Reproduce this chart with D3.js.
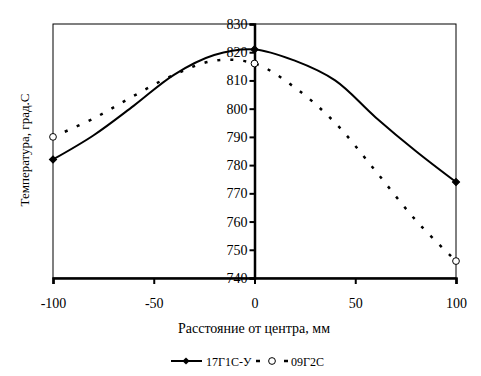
<!DOCTYPE html>
<html>
<head>
<meta charset="utf-8">
<script src="https://cdn.jsdelivr.net/npm/d3@7"></script>
<style>
  body { margin: 0; background: #fff; }
  text { font-family: "Liberation Serif", "Times New Roman", serif; fill: #000; }
</style>
</head>
<body>
<div id="chart"></div>
<script>
// данные
const xs = [-100, -80, -60, -40, -20, 0, 20, 40, 60, 80, 100];
const s1 = [782, 790.5, 801, 812, 819, 821, 817, 810, 797, 785, 774];   // 17Г1С-У
const s2 = [790, 796.5, 804.5, 812, 817, 816, 807.5, 795, 778, 760.5, 746]; // 09Г2С
const markerX = [-100, 0, 100];
const xTicks = [-100, -50, 0, 50, 100];
const yTicks = [740, 750, 760, 770, 780, 790, 800, 810, 820, 830];
const names = ["17Г1С-У", "09Г2С"];

const width = 481, height = 376;
const mLeft = 53, mRight = 456, mTop = 24, mBottom = 278;

const svg = d3.select("#chart").append("svg")
  .attr("width", width)
  .attr("height", height);

svg.append("rect").attr("width", width).attr("height", height).attr("fill", "#fff");

const x = d3.scaleLinear().domain([-100, 100]).range([mLeft, mRight]);
const y = d3.scaleLinear().domain([740, 830]).range([mBottom, mTop]);

// рамка
svg.append("rect")
  .attr("x", mLeft).attr("y", mTop)
  .attr("width", mRight - mLeft).attr("height", mBottom - mTop)
  .attr("fill", "none").attr("stroke", "#000").attr("stroke-width", 1);

// ось X
const xAxis = svg.append("g")
  .attr("transform", "translate(0," + mBottom + ")")
  .call(d3.axisBottom(x).tickValues(xTicks).tickSize(6).tickPadding(14).tickFormat(d => String(d)));
xAxis.select(".domain").attr("stroke-width", 2.5);
xAxis.selectAll(".tick line").attr("stroke-width", 2);
xAxis.selectAll("text").attr("font-size", 14);

// ось Y (через 0)
const yAxis = svg.append("g")
  .attr("transform", "translate(" + x(0) + ",0)")
  .call(d3.axisLeft(y).tickValues(yTicks).tickSize(5).tickPadding(2).tickFormat(d => String(d)));
yAxis.select(".domain").attr("stroke-width", 2.5);
yAxis.selectAll(".tick line").attr("stroke-width", 2);
yAxis.selectAll("text").attr("font-size", 14);

const line = d3.line()
  .x((d, i) => x(xs[i]))
  .y(d => y(d))
  .curve(d3.curveCatmullRom.alpha(0.5));

svg.append("path").datum(s1)
  .attr("d", line)
  .attr("fill", "none").attr("stroke", "#000").attr("stroke-width", 2);

svg.append("path").datum(s2)
  .attr("d", line)
  .attr("fill", "none").attr("stroke", "#000").attr("stroke-width", 2.5)
  .attr("stroke-dasharray", "3,10");

const diamond = d3.symbol().type(d3.symbolSquare).size(26);
const circle = d3.symbol().type(d3.symbolCircle).size(36);

svg.selectAll(".m1")
  .data(markerX)
  .enter().append("path")
  .attr("class", "m1")
  .attr("d", diamond)
  .attr("transform", d => "translate(" + x(d) + "," + y(s1[xs.indexOf(d)]) + ") rotate(45)")
  .attr("fill", "#000").attr("stroke", "#000");

svg.selectAll(".m2")
  .data(markerX)
  .enter().append("path")
  .attr("class", "m2")
  .attr("d", circle)
  .attr("transform", d => "translate(" + x(d) + "," + y(s2[xs.indexOf(d)]) + ")")
  .attr("fill", "#fff").attr("stroke", "#000").attr("stroke-width", 1);

// подписи осей
svg.append("text")
  .attr("x", 254).attr("y", 333)
  .attr("text-anchor", "middle").attr("font-size", 14)
  .text("Расстояние от центра, мм");

svg.append("text")
  .attr("transform", "translate(29,150) rotate(-90)")
  .attr("text-anchor", "middle").attr("font-size", 13)
  .text("Температура, град.С");

// легенда
const ly = 361;
const lg = svg.append("g");
lg.append("line").attr("x1", 171).attr("x2", 202).attr("y1", ly).attr("y2", ly)
  .attr("stroke", "#000").attr("stroke-width", 2);
lg.append("path").attr("d", diamond).attr("transform", "translate(186," + ly + ") rotate(45)");
lg.append("text").attr("x", 206).attr("y", ly + 5).attr("font-size", 12).text(names[0]);

lg.append("line").attr("x1", 256).attr("x2", 288).attr("y1", ly).attr("y2", ly)
  .attr("stroke", "#000").attr("stroke-width", 2.5).attr("stroke-dasharray", "4,24");
lg.append("path").attr("d", circle).attr("transform", "translate(272," + ly + ")")
  .attr("fill", "#fff").attr("stroke", "#000");
lg.append("text").attr("x", 291).attr("y", ly + 5).attr("font-size", 12).text(names[1]);
</script>
</body>
</html>
